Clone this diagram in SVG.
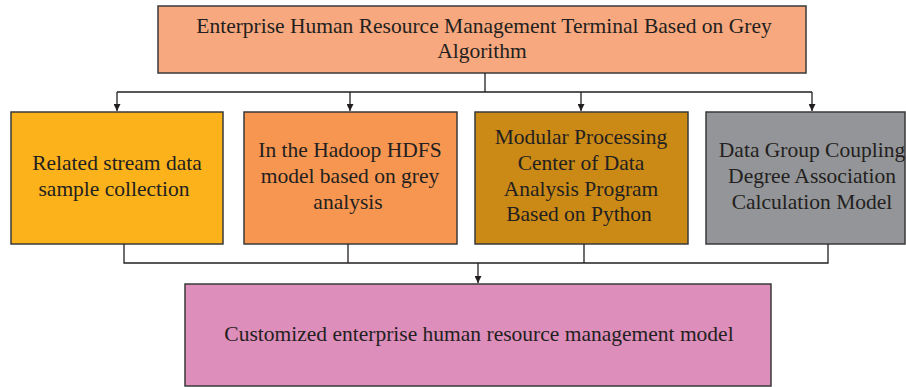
<svg xmlns="http://www.w3.org/2000/svg" width="906" height="387" viewBox="0 0 906 387">
<defs>
<marker id="arr" viewBox="0 0 10 10" refX="10" refY="5" markerWidth="7" markerHeight="7" orient="auto" markerUnits="userSpaceOnUse">
<path d="M0,0 L10,5 L0,10 z" fill="#231F20"/>
</marker>
<style>
.box{stroke:#3a3a3a;stroke-width:1.5}
.t{font-family:"Liberation Serif","Times New Roman",serif;font-size:21.5px;fill:#231F20;text-anchor:middle}
.c{fill:none;stroke:#231F20;stroke-width:1.3}
</style>
</defs>
<rect width="906" height="387" fill="#ffffff"/>
<g id="top">
<rect class="box" x="158" y="6" width="648" height="67" fill="#F7A87E"/>
<text class="t" x="484" y="33">Enterprise Human Resource Management Terminal Based on Grey</text>
<text class="t" x="482" y="58">Algorithm</text>
</g>
<g id="n1">
<rect class="box" x="11" y="112" width="212" height="132" fill="#FBB21B"/>
<text class="t" x="117" y="170">Related stream data</text>
<text class="t" x="114" y="196">sample collection</text>
</g>
<g id="n2">
<rect class="box" x="244" y="112" width="213" height="132" fill="#F79650"/>
<text class="t" x="350" y="157">In the Hadoop HDFS</text>
<text class="t" x="350" y="183">model based on grey</text>
<text class="t" x="348" y="209">analysis</text>
</g>
<g id="n3">
<rect class="box" x="475" y="112" width="213" height="132" fill="#CB8A16"/>
<text class="t" x="581" y="144">Modular Processing</text>
<text class="t" x="581" y="170">Center of Data</text>
<text class="t" x="581" y="196">Analysis Program</text>
<text class="t" x="579" y="221">Based on Python</text>
</g>
<g id="n4">
<rect class="box" x="706" y="112" width="199" height="132" fill="#939598"/>
<text class="t" x="812" y="157">Data Group Coupling</text>
<text class="t" x="812" y="183">Degree Association</text>
<text class="t" x="812" y="209">Calculation Model</text>
</g>
<g id="bottom">
<rect class="box" x="185" y="284" width="586" height="102" fill="#DE8EBB"/>
<text class="t" x="479" y="341">Customized enterprise human resource management model</text>
</g>
<g id="connectors">
<path class="c" d="M485,73 V92 M117,92 H812"/>
<path class="c" d="M117,92 V111" marker-end="url(#arr)"/>
<path class="c" d="M350,92 V111" marker-end="url(#arr)"/>
<path class="c" d="M581,92 V111" marker-end="url(#arr)"/>
<path class="c" d="M812,92 V111" marker-end="url(#arr)"/>
<path class="c" d="M124,244 V263 H828 V244 M348,244 V263 M584,244 V263"/>
<path class="c" d="M478,263 V283" marker-end="url(#arr)"/>
</g>
</svg>
